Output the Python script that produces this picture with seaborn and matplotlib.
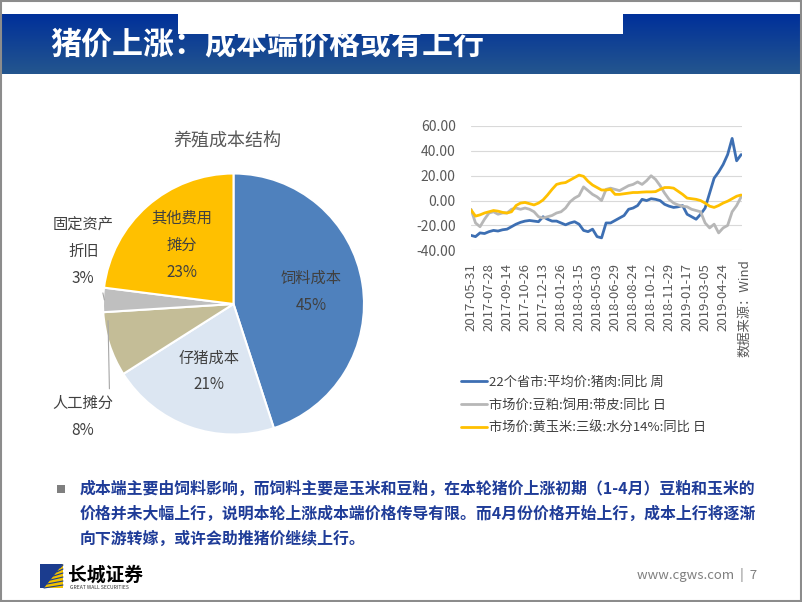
import numpy as np
import pandas as pd
import matplotlib
matplotlib.use('Agg')
import matplotlib.pyplot as plt
from matplotlib.patches import Rectangle, Polygon
import seaborn as sns

# ---------------- data ----------------
pie_title = '养殖成本结构'
pie_labels = ['饲料成本', '仔猪成本', '人工摊分', '固定资产\n折旧', '其他费用\n摊分']
pie_values = [45, 21, 8, 3, 23]
pie_colors = ['#4F81BD', '#DCE6F2', '#C4BD97', '#BFBFBF', '#FFC000']

date_labels = ['2017-05-31', '2017-07-28', '2017-09-14', '2017-10-26', '2017-12-13',
               '2018-01-26', '2018-03-15', '2018-05-03', '2018-06-29', '2018-08-24',
               '2018-10-12', '2018-11-29', '2019-01-17', '2019-03-05', '2019-04-24']

# year-on-year values (%), sampled every 8 trading days
pork_yoy = [-28, -29, -26, -26.5, -25, -24, -24.5, -23.5, -23, -21, -19, -17.5,
            -16.5, -16, -16.5, -17, -13, -15, -16.5, -16.5, -18, -19.5, -18, -17,
            -19, -24, -25, -23, -29, -30, -18, -18, -16, -14, -12, -7,
            -6, -4, 1, 0, 1.5, 1, 0, -3, -4.5, -5.5, -5, -4,
            -11, -13, -15, -11, -6, 6, 18, 23, 29, 37, 50, 32, 37]
soymeal_yoy = [-7, -18, -21, -15, -10, -9, -11, -10, -10, -7, -6, -7,
               -6, -7, -9, -13, -14, -13, -12, -10, -9, -6, -1, 2,
               4, 11, 8, 5, 3, 0, 9, 10, 9, 8, 10, 12,
               13, 15, 13, 16, 20, 17, 12, 6, 1, -2, -3.5, -4.5,
               -5, -7, -8, -9, -18, -22, -19, -26, -22, -20, -9, -4, 3]
corn_yoy = [-7.5, -12.5, -11.5, -10, -9, -8, -8.5, -9.5, -10, -9, -4, -2,
            -1.5, -2.5, -3.5, -2, 0.5, 4.5, 9, 13, 14, 14.5, 16.5, 18.5,
            20.5, 19.5, 15.5, 12.5, 10.5, 8.5, 8.5, 9, 5, 5, 5.5, 6,
            6.5, 6.5, 6.8, 7, 7, 7.2, 9, 10.5, 10.5, 10, 7.5, 5,
            2, 1.5, 1, 0, -2, -4.5, -5.5, -4, -2, -0.5, 1.5, 3.5, 4.5]
series_names = ['22个省市:平均价:猪肉:同比 周',
                '市场价:豆粕:饲用:带皮:同比 日',
                '市场价:黄玉米:三级:水分14%:同比 日']
series_colors = ['#3D6FB3', '#B7B7B7', '#FFC000']
y_ticks = [-40, -20, 0, 20, 40, 60]

source_text = '数据来源：Wind'
page_title = '猪价上涨：成本端价格或有上行'
body_lines = ['成本端主要由饲料影响，而饲料主要是玉米和豆粕，在本轮猪价上涨初期（1-4月）豆粕和玉米的',
              '价格并未大幅上行，说明本轮上涨成本端价格传导有限。而4月份价格开始上行，成本上行将逐渐',
              '向下游转嫁，或许会助推猪价继续上行。']
footer_text = 'www.cgws.com  |  7'

# ---------------- style ----------------
sns.set_theme(style='white')
plt.rcParams['font.family'] = ['Noto Sans CJK SC', 'DejaVu Sans']

W, H = 802, 602
fig = plt.figure(figsize=(W / 100, H / 100), dpi=100)
fig.patch.set_facecolor('white')

# background / decoration axes in pixel coordinates
bg = fig.add_axes([0, 0, 1, 1])
bg.set_xlim(0, W)
bg.set_ylim(H, 0)
bg.axis('off')

grad = np.linspace(0, 1, 100)[:, None]
top_c = np.array([0, 48, 154]) / 255
bot_c = np.array([36, 86, 142]) / 255
img = top_c[None, None, :] * (1 - grad[:, :, None]) + bot_c[None, None, :] * grad[:, :, None]
img = np.repeat(img, 2, axis=1)
bg.imshow(img, extent=[0, W, 74, 14], aspect='auto', zorder=1)
bg.text(50, 45, page_title, color='white', fontsize=22.3, fontweight='bold',
        va='center', ha='left', zorder=2)
bg.add_patch(Rectangle((178, 14), 445, 20, color='white', zorder=3, lw=0))

# body text
bg.add_patch(Rectangle((57, 485), 8, 8, color='#7F7F7F', lw=0, zorder=2))
for i, line in enumerate(body_lines):
    bg.text(80, 489 + 25 * i, line, color='#1F3C98', fontsize=11.45, fontweight='bold',
            va='center', ha='left', zorder=2)

# footer
bg.text(757, 575, footer_text, color='#7F7F7F', fontsize=9.5, va='center', ha='right')
bg.add_patch(Rectangle((40, 564), 23, 24, color='#1B3C8E', lw=0, zorder=2))
bg.add_patch(Polygon([(63, 564), (63, 588), (44, 588)], closed=True, color='#F2C200', lw=0, zorder=3))
for k in range(6):
    yy = 568 + 4 * k
    bg.plot([63 - (yy - 564) * 19 / 24, 63], [yy, yy - 3], color='#1B3C8E', lw=0.8, zorder=4)
bg.text(68, 575, '长城证券', color='black', fontsize=13.5, fontweight='bold', va='center', ha='left')
bg.text(70, 587.5, 'GREAT WALL SECURITIES', color='#333333', fontsize=3.6, va='center', ha='left')

# border
bg.add_patch(Rectangle((0.8, 0.8), W - 1.6, H - 1.6, fill=False, edgecolor='#8C8C8C', lw=1.5, zorder=5))

# ---------------- pie ----------------
cx, cy, r = 233.5, 304, 130.5
axp = fig.add_axes([(cx - r) / W, (H - cy - r) / H, 2 * r / W, 2 * r / H])
axp.set_facecolor('none')
wedges, _ = axp.pie(pie_values, colors=pie_colors, startangle=90, counterclock=False,
                    wedgeprops=dict(edgecolor='white', linewidth=1.5))
axp.set_xlim(-1, 1)
axp.set_ylim(-1, 1)
axp.set_aspect('equal')
fig.text(227 / W, 1 - 141 / H, pie_title, color='#595959', fontsize=13, ha='center', va='center')

label_col = '#404040'
inside_r = {0: 0.6, 1: 0.55, 4: 0.6}
for i, (w, lab, v) in enumerate(zip(wedges, pie_labels, pie_values)):
    mid = np.deg2rad((w.theta1 + w.theta2) / 2)
    txt = f'{lab}\n{v}%'
    if i in inside_r:
        rr = inside_r[i]
        axp.text(rr * np.cos(mid), rr * np.sin(mid), txt, ha='center', va='center',
                 fontsize=11, color=label_col, linespacing=1.75)
    elif i == 2:
        ang = np.deg2rad(w.theta1 + 4)
        axp.annotate(txt, xy=(0.97 * np.cos(ang), 0.97 * np.sin(ang)),
                     xytext=((82.7 - cx) / r, (cy - 416.7) / r), ha='center', va='center',
                     fontsize=11, color=label_col, linespacing=1.75,
                     arrowprops=dict(arrowstyle='-', color='#A6A6A6', lw=0.8,
                                     relpos=(0.94, 1.0), shrinkA=2, shrinkB=0))
    else:
        axp.annotate(txt, xy=(0.99 * np.cos(mid), 0.99 * np.sin(mid)),
                     xytext=((83.3 - cx) / r, (cy - 251.7) / r), ha='center', va='center',
                     fontsize=11, color=label_col, linespacing=1.75,
                     arrowprops=dict(arrowstyle='-', color='#A6A6A6', lw=0.8,
                                     relpos=(0.78, 0.08), shrinkA=2, shrinkB=0))

# ---------------- line chart ----------------
step = 8           # trading days per sample
label_every = 32   # trading days per tick label
n = len(pork_yoy)
x_idx = np.arange(n) * step
df = pd.concat([
    pd.DataFrame({'x': x_idx, 'value': vals, 'series': name})
    for name, vals in zip(series_names, [pork_yoy, soymeal_yoy, corn_yoy])
], ignore_index=True)

axl = fig.add_axes([471 / W, (H - 250.3) / H, 270.7 / W, 124.3 / H])
axl.set_facecolor('none')
sns.lineplot(data=df, x='x', y='value', hue='series', hue_order=series_names,
             palette=series_colors, linewidth=2.0, ax=axl, legend=False, zorder=3)
axl.set_xlim(0, (n - 1) * step + 1)
axl.set_ylim(y_ticks[0], y_ticks[-1])
axl.set_yticks(y_ticks)
axl.set_yticklabels([f'{v:.2f}' for v in y_ticks])
axl.set_xticks(np.arange(len(date_labels)) * label_every)
axl.set_xticklabels(date_labels, rotation=90)
axl.grid(axis='y', color='#D9D9D9', lw=0.8)
axl.grid(axis='x', visible=False)
for s in axl.spines.values():
    s.set_visible(False)
axl.tick_params(axis='y', length=0, pad=11, labelsize=10, labelcolor='#595959')
axl.tick_params(axis='x', length=0, pad=9, labelsize=9.5, labelcolor='#595959')
axl.set_xlabel('')
axl.set_ylabel('')

fig.text(745 / W, 1 - 259 / H, source_text, rotation=90, ha='center', va='top',
         fontsize=9.5, color='#595959')

handles = [plt.Line2D([], [], color=c, lw=2.0) for c in series_colors]
fig.legend(handles, series_names, loc='upper left', bbox_to_anchor=(454 / W, 1 - 369 / H),
           frameon=False, fontsize=9.5, labelcolor='#404040', handlelength=2.0,
           handletextpad=0.15, labelspacing=0.75, borderpad=0)

fig.savefig('out.png', dpi=100, facecolor='white')
